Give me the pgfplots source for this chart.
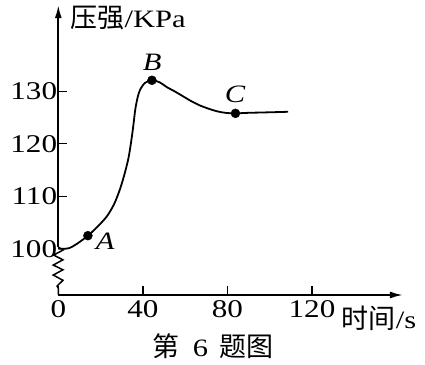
\documentclass[border=0pt]{standalone}
\usepackage{fontspec}
\setmainfont{Liberation Serif}
\newfontfamily\cjk{Noto Sans CJK SC}
\usepackage{graphicx}
\usepackage{pgfplots}
\pgfplotsset{compat=1.18}
\usetikzlibrary{arrows.meta}
\newcommand{\wide}[1]{\scalebox{1.22}[1]{#1}}
\newcommand{\cj}[1]{{\fontsize{27bp}{30bp}\cjk #1}}
\begin{document}
\begin{tikzpicture}
\begin{axis}[
  x=2.114bp, y=5.25bp,
  xmin=0, xmax=163, ymin=91.2, ymax=146.4,
  axis lines=left,
  axis line style={draw=none},
  clip=false,
  xtick={0,40,80,120},
  ytick={100,110,120,130},
  tick align=inside,
  major tick length=9bp,
  tick style={line width=1.4bp, black},
  /pgf/number format/assume math mode=true,
  xticklabel={\wide{\pgfmathprintnumber{\tick}}},
  yticklabel={\wide{\pgfmathprintnumber{\tick}}},
  ticklabel style={font=\fontsize{25.5bp}{30bp}\selectfont, inner sep=0pt},
  xticklabel style={anchor=north, yshift=-5bp},
  yticklabel style={anchor=east, xshift=-1bp},
]
% axes
\draw[line width=1.8bp, -{Latex[length=13bp,width=7bp]}] (axis cs:0,91.2) -- (axis cs:163,91.2);
\draw[line width=1.8bp, -{Latex[length=13bp,width=7bp]}] (axis cs:0,100.3) -- (axis cs:0,146.4);
% broken-axis zigzag
\addplot[line width=1.5bp, black, mark=none] coordinates {
 (0,100.3) (2.4,99.8) (-2.2,98.8) (2.2,97.9) (-2.4,96.9) (2.2,96.0) (-2.4,95.0) (2.2,94.0) (-0.6,92.9) (0,92.5) (0,91.2)};
% curve
\addplot[line width=1.8bp, black, smooth, tension=0.5, mark=none] coordinates {
 (0,100) (4.9,100.1) (9,101.0) (14,102.5) (18.5,104.2) (23,106.2) (26.5,108.6) (29.3,111.5)
 (31.5,114.5) (33.2,117.3) (34.5,120.5) (35.5,123.5) (36.4,126.5) (37.5,128.8) (38.7,130.3)
 (41,131.6) (44.3,132.1) (48,131.7) (51.3,130.8) (55,130.0) (59.2,129.0) (63,128.1) (67,127.3)
 (71,126.7) (75,126.2) (79,125.9) (83.8,125.8) (90,125.9) (100,126.0) (108.7,126.1)};
% points
\addplot[only marks, mark=*, mark size=4.5bp, black] coordinates {(14,102.5) (44.3,132.1) (83.8,125.8)};
% point labels
\node[font=\fontsize{25bp}{30bp}\selectfont\itshape] at (axis cs:22.2,101.5) {\wide{A}};
\node[font=\fontsize{25bp}{30bp}\selectfont\itshape] at (axis cs:44.4,135.6) {\wide{B}};
\node[font=\fontsize{25bp}{30bp}\selectfont\itshape] at (axis cs:83.6,129.5) {\wide{C}};
% axis labels
\node[anchor=west, inner sep=0pt, font=\fontsize{25bp}{30bp}\selectfont] at (axis cs:5.7,143.9) {\cj{压强}\wide{/KPa}};
\node[anchor=west, inner sep=0pt, font=\fontsize{25bp}{30bp}\selectfont] at (axis cs:134.0,86.8) {\cj{时间}\wide{/s}};
% caption
\node[inner sep=0pt, font=\fontsize{25bp}{30bp}\selectfont] at (axis cs:73.2,81.4) {\cj{第}\hspace{13bp}\wide{6}\hspace{11bp}\cj{题图}};
% bounding box
\path (axis cs:-27.58,147.39) rectangle (axis cs:173.46,77.87);
\end{axis}
\end{tikzpicture}
\end{document}
